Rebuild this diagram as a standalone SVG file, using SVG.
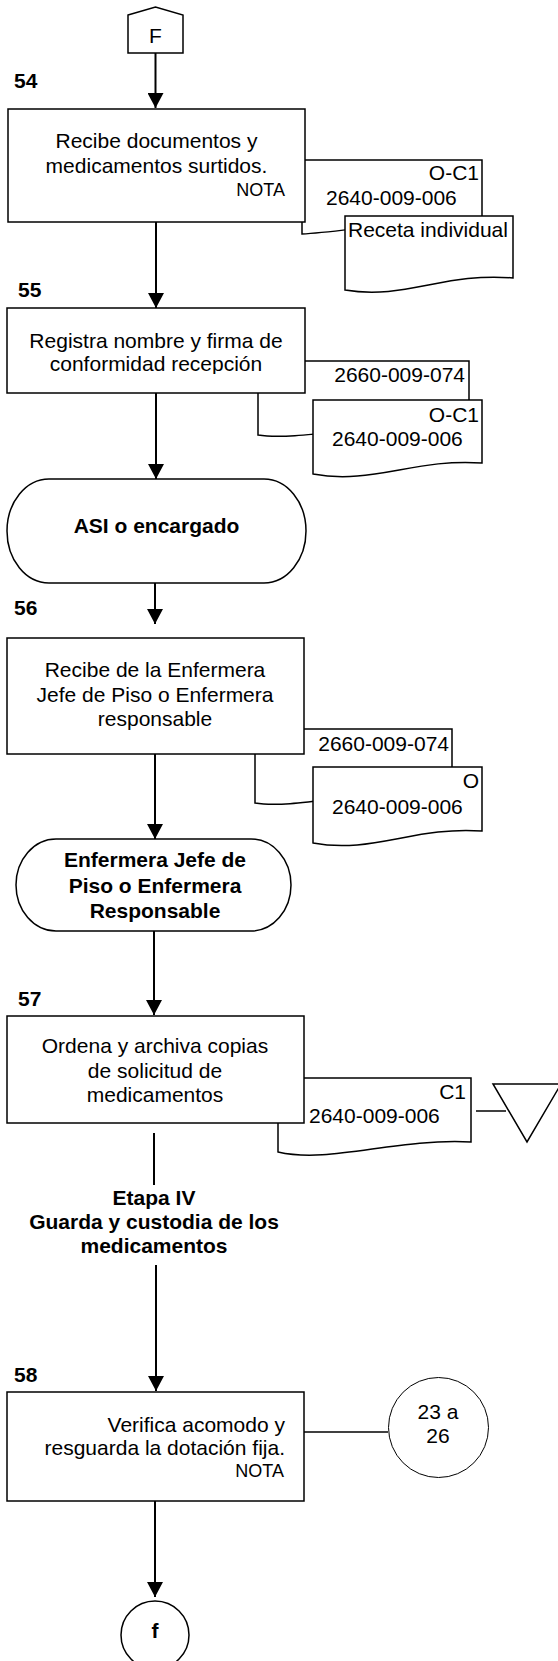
<svg xmlns="http://www.w3.org/2000/svg" width="558" height="1661" viewBox="0 0 558 1661">
<style>
.s{fill:#fff;stroke:#000;stroke-width:1.5}
.thin{stroke-width:1}
.t{font-family:"Liberation Sans",Arial,sans-serif;font-size:21px;fill:#000}
.b{font-weight:bold}
.c{text-anchor:middle}
.e{text-anchor:end}
.n{font-size:18px}
.ln{fill:none;stroke:#000;stroke-width:2}
.l1{fill:none;stroke:#000;stroke-width:1.5}
</style>
<defs>
<marker id="ah" markerUnits="userSpaceOnUse" markerWidth="16" markerHeight="16" refX="15" refY="8" orient="auto">
<path d="M0,0 L15,8 L0,16 Z" fill="#000"/>
</marker>
<clipPath id="c55"><rect x="0" y="300" width="320" height="74"/></clipPath>
<clipPath id="c57"><rect x="0" y="1010" width="320" height="92"/></clipPath>
</defs>
<rect width="558" height="1661" fill="#fff"/>

<g id="connectors">
<line class="ln" x1="155.5" y1="53" x2="155.5" y2="108" marker-end="url(#ah)"/>
<line class="ln" x1="156" y1="222" x2="156" y2="308" marker-end="url(#ah)"/>
<line class="ln" x1="156" y1="393" x2="156" y2="479" marker-end="url(#ah)"/>
<line class="ln" x1="155" y1="583" x2="155" y2="624" marker-end="url(#ah)"/>
<line class="ln" x1="155" y1="754" x2="155" y2="839" marker-end="url(#ah)"/>
<line class="ln" x1="154" y1="931" x2="154" y2="1015" marker-end="url(#ah)"/>
<line class="ln" x1="154" y1="1133" x2="154" y2="1185"/>
<line class="ln" x1="156" y1="1265" x2="156" y2="1391" marker-end="url(#ah)"/>
<line class="ln" x1="155" y1="1501" x2="155" y2="1597" marker-end="url(#ah)"/>
<line class="l1" x1="476" y1="1111" x2="506" y2="1111"/>
<line class="l1" x1="301" y1="1432" x2="388" y2="1432"/>
</g>

<g id="conn-F">
<polygon class="s" points="128,15 155.5,7 183,15 183,53 128,53"/>
<text class="t c" x="155.5" y="43" font-size="19">F</text>
</g>

<g id="doc54a">
<path class="s" d="M302,160 H482 V222 C410,218 345,232 302,234 Z"/>
<text class="t e" x="479" y="180">O-C1</text>
<text class="t" x="326" y="205">2640-009-006</text>
</g>
<g id="step54">
<text class="t b" x="14" y="88">54</text>
<rect class="s" x="8" y="109" width="297" height="113"/>
<text class="t c" x="156.5" y="148">Recibe documentos y</text>
<text class="t c" x="156.5" y="173">medicamentos surtidos.</text>
<text class="t e n" x="285" y="196">NOTA</text>
</g>
<g id="doc54b">
<path class="s" d="M345,216 H513 V278 C445,272 405,300 345,290 Z"/>
<text class="t" x="348" y="237">Receta individual</text>
</g>

<g id="doc55a">
<path class="s" d="M258,361 H469 V423 C380,420 300,442 258,435 Z"/>
<text class="t e" x="465" y="382">2660-009-074</text>
</g>
<g id="step55">
<text class="t b" x="18" y="297">55</text>
<rect class="s" x="7" y="308" width="298" height="85"/>
<g clip-path="url(#c55)">
<text class="t c" x="156" y="348">Registra nombre y firma de</text>
<text class="t c" x="156" y="371">conformidad recepción</text>
</g>
</g>
<g id="doc55b">
<path class="s" d="M313,400 H482 V463 C415,458 372,485 313,474 Z"/>
<text class="t e" x="479" y="422">O-C1</text>
<text class="t" x="332" y="446">2640-009-006</text>
</g>

<g id="term-asi">
<rect class="s" x="7" y="479" width="299" height="104" rx="42" ry="52"/>
<text class="t b c" x="156.5" y="533">ASI o encargado</text>
</g>

<g id="doc56a">
<path class="s" d="M255,729 H452 V791 C370,788 295,810 255,803 Z"/>
<text class="t e" x="449" y="751">2660-009-074</text>
</g>
<g id="step56">
<text class="t b" x="14" y="615">56</text>
<rect class="s" x="7" y="638" width="297" height="116"/>
<text class="t c" x="155" y="677">Recibe de la Enfermera</text>
<text class="t c" x="155" y="702">Jefe de Piso o Enfermera</text>
<text class="t c" x="155" y="726">responsable</text>
</g>
<g id="doc56b">
<path class="s" d="M313,767 H482 V831 C415,826 372,854 313,843 Z"/>
<text class="t e" x="479" y="788">O</text>
<text class="t" x="332" y="814">2640-009-006</text>
</g>

<g id="term-enf">
<rect class="s" x="16" y="839" width="275" height="92" rx="40" ry="46"/>
<text class="t b c" x="155" y="867">Enfermera Jefe de</text>
<text class="t b c" x="155" y="893">Piso o Enfermera</text>
<text class="t b c" x="155" y="918">Responsable</text>
</g>

<g id="doc57">
<path class="s" d="M278,1078 H471 V1142 C395,1138 330,1164 278,1152 Z"/>
<text class="t e" x="466" y="1099">C1</text>
<text class="t" x="309" y="1123">2640-009-006</text>
</g>
<g id="step57">
<text class="t b" x="18" y="1006">57</text>
<rect class="s" x="7" y="1016" width="297" height="107"/>
<g clip-path="url(#c57)">
<text class="t c" x="155" y="1053">Ordena y archiva copias</text>
<text class="t c" x="155" y="1078">de solicitud de</text>
<text class="t c" x="155" y="1102">medicamentos</text>
</g>
</g>
<g id="archive">
<polygon class="s" points="493,1084 561,1084 527,1142"/>
</g>

<g id="stage-label">
<text class="t b c" x="154" y="1205">Etapa IV</text>
<text class="t b c" x="154" y="1229">Guarda y custodia de los</text>
<text class="t b c" x="154" y="1253">medicamentos</text>
</g>

<g id="step58">
<text class="t b" x="14" y="1382">58</text>
<rect class="s" x="7" y="1392" width="297" height="109"/>
<text class="t e" x="285" y="1432">Verifica acomodo y</text>
<text class="t e" x="285" y="1455">resguarda la dotación fija.</text>
<text class="t e n" x="284" y="1477">NOTA</text>
</g>
<g id="ref-23-26">
<circle class="s thin" cx="438.5" cy="1427.5" r="50"/>
<text class="t c" x="438" y="1419">23 a</text>
<text class="t c" x="438" y="1443">26</text>
</g>
<g id="conn-f">
<circle class="s" cx="155" cy="1635" r="34"/>
<text class="t b c" x="155" y="1638">f</text>
</g>
</svg>
